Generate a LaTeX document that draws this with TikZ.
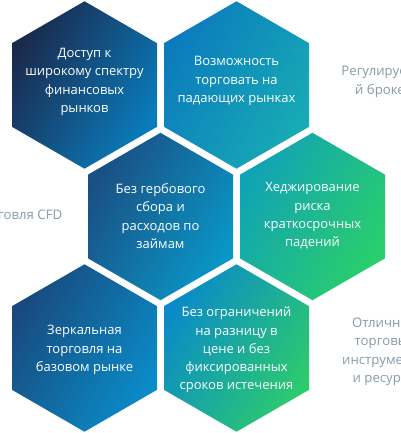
\documentclass[tikz,border=0pt]{standalone}
\usepackage{fontspec}
\setmainfont{Open Sans}
\definecolor{sidegray}{HTML}{889AA4}
\definecolor{hAa}{HTML}{1A2A4D}\definecolor{hAb}{HTML}{0A7CBC}
\definecolor{hBa}{HTML}{0B7BBE}\definecolor{hBb}{HTML}{17ABB4}
\definecolor{hCa}{HTML}{1A4F84}\definecolor{hCb}{HTML}{0997C6}
\definecolor{hDa}{HTML}{11A2B5}\definecolor{hDb}{HTML}{2ACF6B}
\definecolor{hEa}{HTML}{184A7E}\definecolor{hEb}{HTML}{0A8CC8}
\definecolor{hFa}{HTML}{0A8AC8}\definecolor{hFb}{HTML}{2CCB6E}
\newcommand{\hexR}{83.7}
\newcommand{\hexW}{72.5}
\newcommand{\hexat}[4]{%
  \shade[left color=#3,right color=#4,shading angle=60]
    (#1,#2-\hexR) -- (#1-\hexW,#2-\hexR/2) -- (#1-\hexW,#2+\hexR/2) -- (#1,#2+\hexR)
    -- (#1+\hexW,#2+\hexR/2) -- (#1+\hexW,#2-\hexR/2) -- cycle;}
\begin{document}
\begin{tikzpicture}[x=1pt,y=-1pt,
  hexlabel/.style={text=white,align=center,inner sep=0pt,font=\fontsize{13}{18.3}\selectfont},
  sidelabel/.style={text=sidegray,align=center,inner sep=0pt,font=\fontsize{13.2}{18.5}\selectfont}]
\useasboundingbox (0,0) rectangle (400,433);
\clip (0,0) rectangle (400,433);
\hexat{84.5}{85}{hAa}{hAb}
\hexat{236.5}{85}{hBa}{hBb}
\hexat{160.5}{216.5}{hCa}{hCb}
\hexat{312.5}{216.5}{hDa}{hDb}
\hexat{84.5}{348}{hEa}{hEb}
\hexat{236.5}{348}{hFa}{hFb}
\node[hexlabel] (t1) at (84.5,82) {Доступ к\\широкому спектру\\финансовых\\рынков};
\node[hexlabel] (t2) at (236.5,81) {Возможность\\торговать на\\падающих рынках};
\node[hexlabel] (t3) at (160.5,216) {Без гербового\\сбора и\\расходов по\\займам};
\node[hexlabel] (t4) at (312.5,216) {Хеджирование\\риска\\краткосрочных\\падений};
\node[hexlabel] (t5) at (84.5,350) {Зеркальная\\торговля на\\базовом рынке};
\node[hexlabel] (t6) at (236.5,350) {Без ограничений\\на разницу в\\цене и без\\фиксированных\\сроков истечения};
\node[sidelabel] (s1) at (384,82) {Регулируемы\\й брокер};
\node[sidelabel] (s2) at (19,216) {Торговля CFD};
\node[sidelabel] (s3) at (385,352) {Отличные\\торговые\\инструменты\\и ресурсы};
\end{tikzpicture}
\end{document}
